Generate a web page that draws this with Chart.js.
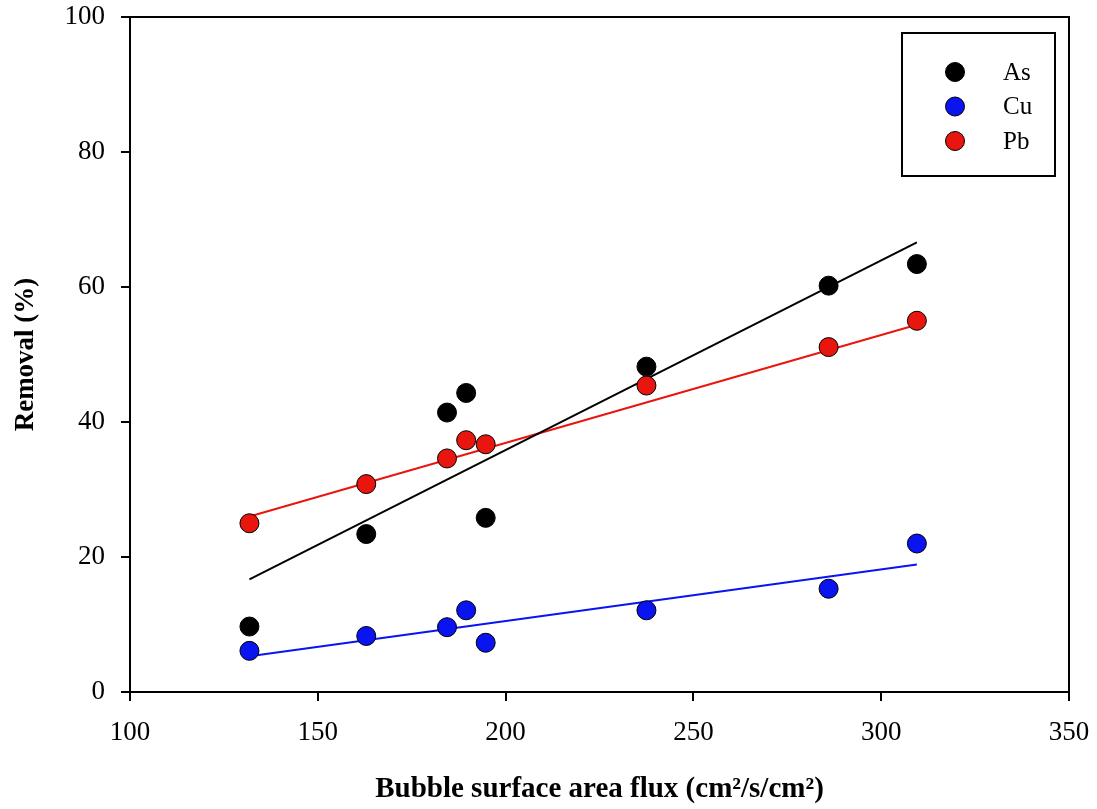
<!DOCTYPE html>
<html>
<head>
<meta charset="utf-8">
<script src="https://cdn.jsdelivr.net/npm/chart.js@4/dist/chart.umd.min.js"></script>
<style>
  body { margin: 0; background: #fff; }
  #wrap { width: 1097px; height: 809px; }
</style>
</head>
<body>
<div id="wrap"><canvas id="removalChart" width="1097" height="809"></canvas></div>
<script>
// flux values (cm2/s/cm2) for each run
const flux = [131.8, 162.9, 184.4, 189.5, 194.7, 237.5, 286.0, 309.5];

// removal (%) per metal
const asRemoval = [9.7, 23.4, 41.4, 44.3, 25.8, 48.2, 60.2, 63.4];
const cuRemoval = [6.1, 8.3, 9.6, 12.1, 7.3, 12.1, 15.3, 22.0];
const pbRemoval = [25.0, 30.8, 34.6, 37.3, 36.7, 45.4, 51.1, 55.0];

// linear fit end points
const fitX = [131.8, 309.5];
const asFit = [16.7, 66.6];
const cuFit = [5.3, 18.9];
const pbFit = [26.0, 54.4];

const xTicks = [100, 150, 200, 250, 300, 350];
const yTicks = [0, 20, 40, 60, 80, 100];

const serif = "'Liberation Serif', 'Times New Roman', serif";

function points(xs, ys) {
  return xs.map((x, i) => ({ x: x, y: ys[i] }));
}

const series = [
  { label: 'As', data: asRemoval, fit: asFit, color: '#000000', order: 3 },
  { label: 'Cu', data: cuRemoval, fit: cuFit, color: '#0a14f0', order: 2 },
  { label: 'Pb', data: pbRemoval, fit: pbFit, color: '#e8160f', order: 1 }
];

const datasets = [];
series.forEach((s) => {
  datasets.push({
    type: 'scatter',
    label: s.label,
    data: points(flux, s.data),
    backgroundColor: s.color,
    borderColor: '#000',
    borderWidth: 1,
    pointRadius: 9.5,
    order: s.order
  });
});
series.forEach((s) => {
  datasets.push({
    type: 'line',
    label: s.label + ' fit',
    data: points(fitX, s.fit),
    borderColor: s.label === 'As' ? '#000' : s.color,
    borderWidth: 2,
    pointRadius: 0,
    fill: false,
    order: 4
  });
});

// box around the plot area plus the legend in the top right
const framePlugin = {
  id: 'frame',
  afterDraw(chart) {
    const ctx = chart.ctx;
    const a = chart.chartArea;
    ctx.save();
    ctx.strokeStyle = '#000';
    ctx.lineWidth = 2;
    ctx.strokeRect(a.left, a.top, a.right - a.left, a.bottom - a.top);

    const boxW = 153, boxH = 143;
    const bx = a.right - 14 - boxW;
    const by = a.top + 16;
    ctx.fillStyle = '#fff';
    ctx.fillRect(bx, by, boxW, boxH);
    ctx.strokeRect(bx, by, boxW, boxH);

    ctx.font = '25px ' + serif;
    ctx.textBaseline = 'middle';
    series.forEach((s, i) => {
      const cy = by + 39 + i * 34.5;
      ctx.beginPath();
      ctx.arc(bx + 53, cy, 9.5, 0, Math.PI * 2);
      ctx.fillStyle = s.color;
      ctx.fill();
      ctx.lineWidth = 1;
      ctx.strokeStyle = '#000';
      ctx.stroke();
      ctx.fillStyle = '#000';
      ctx.fillText(s.label, bx + 101, cy + 1);
    });
    ctx.restore();
  }
};

// labels may overhang the plot edges, don't let them shrink it
function noOverhang(scale) {
  scale.paddingTop = 0;
  scale.paddingBottom = 0;
  scale.paddingLeft = 0;
  scale.paddingRight = 0;
}

new Chart(document.getElementById('removalChart'), {
  type: 'scatter',
  data: { datasets: datasets },
  options: {
    responsive: false,
    animation: false,
    layout: { padding: { top: 17, right: 28, left: 0, bottom: 0 } },
    plugins: {
      legend: { display: false },
      tooltip: { enabled: false }
    },
    scales: {
      x: {
        type: 'linear',
        min: 100,
        max: 350,
        afterBuildTicks: (scale) => { scale.ticks = xTicks.map((v) => ({ value: v })); },
        afterFit: (scale) => { scale.height = 117; noOverhang(scale); },
        border: { display: true, color: '#000', width: 2 },
        grid: { drawOnChartArea: false, drawTicks: true, tickLength: 9, color: '#000', lineWidth: 2 },
        ticks: { color: '#000', font: { family: serif, size: 27 }, padding: 16 },
        title: {
          display: true,
          text: 'Bubble surface area flux (cm²/s/cm²)',
          color: '#000',
          font: { family: serif, size: 29, weight: 'bold' },
          padding: { top: 0, bottom: 2 }
        }
      },
      y: {
        type: 'linear',
        min: 0,
        max: 100,
        afterBuildTicks: (scale) => { scale.ticks = yTicks.map((v) => ({ value: v })); },
        afterFit: (scale) => { scale.width = 130; noOverhang(scale); },
        border: { display: true, color: '#000', width: 2 },
        grid: { drawOnChartArea: false, drawTicks: true, tickLength: 9, color: '#000', lineWidth: 2 },
        ticks: { color: '#000', font: { family: serif, size: 27 }, padding: 16 },
        title: {
          display: true,
          text: 'Removal (%)',
          color: '#000',
          font: { family: serif, size: 27, weight: 'bold' },
          padding: { top: 10, bottom: 0 }
        }
      }
    }
  },
  plugins: [framePlugin]
});
</script>
</body>
</html>
